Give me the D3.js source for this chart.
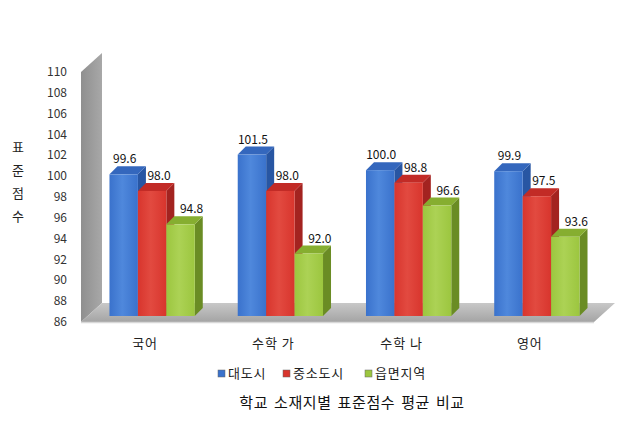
<!DOCTYPE html>
<html>
<head>
<meta charset="utf-8">
<script src="https://cdn.jsdelivr.net/npm/d3@7"></script>
<style>
  body { margin: 0; background: #fff; }
  text { font-family: "Noto Sans CJK KR", "Noto Sans", sans-serif; }
</style>
</head>
<body>
<div id="chart"></div>
<script>
/***********************************************/
//                 CHART DATA                  //
/***********************************************/

const categories = ["국어", "수학 가", "수학 나", "영어"];
const seriesNames = ["대도시", "중소도시", "읍면지역"];
const bigCity   = [99.6, 101.5, 100.0, 99.9];
const smallCity = [98.0, 98.0, 98.8, 97.5];
const rural     = [94.8, 92.0, 96.6, 93.6];
const yTicks = [86, 88, 90, 92, 94, 96, 98, 100, 102, 104, 106, 108, 110];
const yTitle = ["표", "준", "점", "수"];
const chartTitle = "학교 소재지별 표준점수 평균 비교";

const seriesValues = [bigCity, smallCity, rural];

/***********************************************/
//                 LAYOUT                      //
/***********************************************/

const width = 636,
    height = 427;

// front plane of the plot and the 3d depth of the walls
const plotLeft = 81, plotRight = 594, plotTop = 72, plotBottom = 322;
const wallDx = 21, wallDy = -19;
// bars sit a little into the box and have their own depth
const barDx = 7, barDy = -6;
const sideDx = 8, sideDy = -8;

const colors = [
  {front: "#3a72cc", light: "#4f88dc", side: "#2856a3", top: "#3467bd"},
  {front: "#d8352d", light: "#e24a40", side: "#a32320", top: "#c22b26"},
  {front: "#9cc63f", light: "#acd255", side: "#6a8c24", top: "#86ae30"}
];
const labelShift = [1, 7, 11];

const svg = d3.select("#chart")
  .append("svg")
    .attr("width", width)
    .attr("height", height);

const defs = svg.append("defs");

function grad(id, stops, x2, y2) {
  const g = defs.append("linearGradient")
      .attr("id", id)
      .attr("x1", 0).attr("y1", 0)
      .attr("x2", x2).attr("y2", y2);
  stops.forEach(function(s) {
    g.append("stop").attr("offset", s[0]).attr("stop-color", s[1]);
  });
}

grad("wallGrad", [[0, "#8f8f8f"], [1, "#a8a8a8"]], 1, 0);
grad("floorGrad", [[0, "#c8c8c8"], [1, "#a4a4a4"]], 0, 1);
colors.forEach(function(c, i) {
  grad("front" + i, [[0, c.front], [0.45, c.light], [1, c.front]], 1, 0);
});

// scales
const x0 = d3.scaleBand()
    .domain(categories)
    .range([plotLeft, plotRight]);

const x1 = d3.scaleBand()
    .domain(seriesNames)
    .range([0, x0.bandwidth() * 0.665]);

const y = d3.scaleLinear()
    .domain([86, 110])
    .range([plotBottom, plotTop]);

const pts = function(a) { return a.map(function(p) { return p.join(","); }).join(" "); };

// back wall (left side)
svg.append("polygon")
    .attr("points", pts([[plotLeft, y(110)], [plotLeft + wallDx, y(110) + wallDy],
                         [plotLeft + wallDx, y(86) + wallDy], [plotLeft, y(86)]]))
    .style("fill", "url(#wallGrad)");

// floor
svg.append("polygon")
    .attr("points", pts([[plotLeft, y(86)], [plotLeft + wallDx, y(86) + wallDy],
                         [plotRight + wallDx, y(86) + wallDy], [plotRight, y(86)]]))
    .style("fill", "url(#floorGrad)");
svg.append("line")
    .attr("x1", plotLeft).attr("x2", plotRight)
    .attr("y1", y(86) + 0.5).attr("y2", y(86) + 0.5)
    .style("stroke", "#d8d8d8")
    .style("stroke-width", 1.5);

// y tick labels
svg.append("g")
  .selectAll("text")
  .data(yTicks)
  .join("text")
    .attr("x", 67)
    .attr("y", function(d) { return y(d) + 4; })
    .attr("text-anchor", "end")
    .style("font-size", "12px")
    .style("fill", "#333")
    .text(function(d) { return d; });

// y axis title, one character per line
svg.append("g")
  .selectAll("text")
  .data(yTitle)
  .join("text")
    .attr("x", 18)
    .attr("y", function(d, i) { return 152 + i * 23; })
    .attr("text-anchor", "middle")
    .style("font-size", "13px")
    .style("fill", "#222")
    .text(function(d) { return d; });

// bars
const barData = [];
categories.forEach(function(cat, ci) {
  seriesNames.forEach(function(s, si) {
    barData.push({cat: cat, series: s, si: si, value: seriesValues[si][ci]});
  });
});

const groupOffset = (x0.bandwidth() - x1.range()[1]) / 2;

const bars = svg.append("g")
  .selectAll("g")
  .data(barData)
  .join("g")
    .attr("transform", function(d) {
      return `translate(${x0(d.cat) + groupOffset + x1(d.series) + barDx}, ${barDy})`;
    });

const bw = x1.bandwidth();

bars.append("polygon")
    .attr("points", function(d) {
      return pts([[bw, y(d.value)], [bw + sideDx, y(d.value) + sideDy],
                  [bw + sideDx, y(86) + sideDy], [bw, y(86)]]);
    })
    .style("fill", function(d) { return colors[d.si].side; });

bars.append("polygon")
    .attr("points", function(d) {
      return pts([[0, y(d.value)], [sideDx, y(d.value) + sideDy],
                  [bw + sideDx, y(d.value) + sideDy], [bw, y(d.value)]]);
    })
    .style("fill", function(d) { return colors[d.si].top; });

bars.append("rect")
    .attr("x", 0)
    .attr("y", function(d) { return y(d.value); })
    .attr("width", bw)
    .attr("height", function(d) { return y(86) - y(d.value); })
    .style("fill", function(d) { return `url(#front${d.si})`; });

// value labels
bars.append("text")
    .attr("x", function(d) { return bw / 2 + labelShift[d.si]; })
    .attr("y", function(d) { return y(d.value) - 11; })
    .attr("text-anchor", "middle")
    .style("font-size", "12px")
    .style("fill", "#111")
    .text(function(d) { return d.value.toFixed(1); });

// category labels
svg.append("g")
  .selectAll("text")
  .data(categories)
  .join("text")
    .attr("x", function(d) { return x0(d) + x0.bandwidth() / 2; })
    .attr("y", 348)
    .attr("text-anchor", "middle")
    .style("font-size", "13px")
    .style("letter-spacing", "1px")
    .style("fill", "#222")
    .text(function(d) { return d; });

// legend
const legendX = [218, 283, 365];
const legend = svg.append("g")
  .selectAll("g")
  .data(seriesNames)
  .join("g")
    .attr("transform", function(d, i) { return `translate(${legendX[i]}, 370)`; });

legend.append("rect")
    .attr("width", 7)
    .attr("height", 7)
    .style("fill", function(d, i) { return colors[i].front; })
    .style("stroke", "#666")
    .style("stroke-width", 0.5);

legend.append("text")
    .attr("x", 10)
    .attr("y", 8)
    .style("font-size", "13px")
    .style("letter-spacing", "0.8px")
    .style("fill", "#222")
    .text(function(d) { return d; });

// chart title
svg.append("text")
    .attr("x", 352)
    .attr("y", 408)
    .attr("text-anchor", "middle")
    .style("font-size", "15px")
    .style("letter-spacing", "0.6px")
    .style("word-spacing", "2px")
    .style("fill", "#111")
    .text(chartTitle);
</script>
</body>
</html>
